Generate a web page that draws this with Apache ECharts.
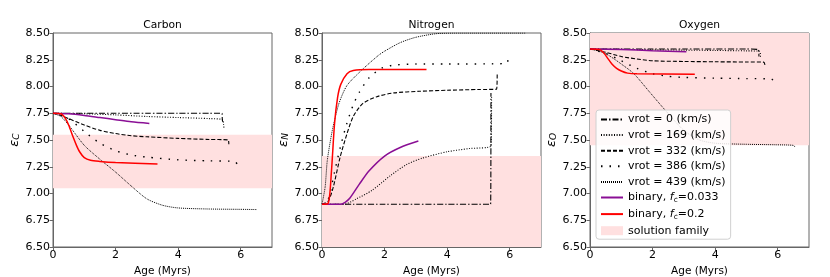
<!DOCTYPE html>
<html><head><meta charset="utf-8">
<script src="https://cdn.jsdelivr.net/npm/echarts@6/dist/echarts.min.js"></script>
<style>html,body{margin:0;padding:0;background:#fff}#c{width:830px;height:277px}</style>
</head><body><div id="c"></div>
<script>
// ---------- data (age in Myr, abundance epsilon) ----------
const panelTitles = ['Carbon', 'Nitrogen', 'Oxygen'];
const yNames = ['C', 'N', 'O'];
const seriesNames = ['vrot = 0 (km/s)', 'vrot = 169 (km/s)', 'vrot = 332 (km/s)', 'vrot = 386 (km/s)', 'vrot = 439 (km/s)', 'binary, fc=0.033', 'binary, fc=0.2'];
const bandName = 'solution family';
const bands = [[7.05, 7.55], [6.50, 7.35], [7.45, 8.50]];
const xTicks = [0, 2, 4, 6];

// Carbon
const cV0   = [[0,7.75],[1,7.75],[2,7.75],[3,7.75],[4,7.75],[5,7.75],[5.40,7.75],[5.41,7.70],[5.42,7.67]];
const cV169 = [[0,7.75],[1,7.745],[2,7.735],[3,7.72],[4,7.71],[5,7.70],[5.42,7.69],[5.45,7.65],[5.47,7.60]];
const cV332 = [[0,7.75],[0.25,7.73],[0.5,7.70],[1,7.64],[1.5,7.59],[2,7.56],[2.5,7.54],[3,7.53],[4,7.515],[5,7.505],[5.6,7.50],[5.62,7.46]];
const cV386 = [[0,7.75],[0.25,7.73],[0.5,7.70],[1,7.58],[1.5,7.47],[2,7.40],[2.5,7.36],[3,7.34],[4,7.315],[5,7.305],[5.8,7.30],[5.9,7.27]];
const cV439 = [[0,7.75],[0.25,7.72],[0.5,7.64],[1,7.45],[1.5,7.32],[2,7.20],[2.5,7.07],[3,6.95],[3.5,6.89],[4,6.865],[5,6.855],[6,6.852],[6.5,6.85]];
const cB033 = [[0,7.75],[0.5,7.745],[1,7.73],[1.5,7.71],[2,7.69],[2.5,7.67],[3.08,7.655]];
const cB02  = [[0,7.75],[0.25,7.745],[0.4,7.70],[0.5,7.64],[0.64,7.53],[0.75,7.45],[0.85,7.39],[1.0,7.335],[1.2,7.31],[1.5,7.30],[2,7.29],[3.34,7.275]];

// Nitrogen
const nV0   = [[0,6.90],[1,6.90],[2,6.90],[3,6.90],[4,6.90],[5,6.90],[5.39,6.90],[5.40,7.94]];
const nV169 = [[0,6.90],[0.7,6.90],[1.1,6.95],[1.6,7.03],[2.2,7.17],[2.7,7.27],[3.2,7.33],[4,7.39],[4.7,7.42],[5.4,7.445],[5.42,7.90]];
const nV332 = [[0,6.90],[0.2,6.93],[0.36,7.06],[0.58,7.34],[0.8,7.56],[1.0,7.72],[1.3,7.84],[1.75,7.905],[2.3,7.94],[3.1,7.955],[4,7.965],[5,7.972],[5.58,7.975],[5.6,8.12]];
const nV386 = [[0,6.90],[0.2,6.95],[0.4,7.20],[0.6,7.45],[0.8,7.66],[1.0,7.83],[1.2,7.95],[1.5,8.08],[1.9,8.17],[2.3,8.20],[3,8.21],[4,8.21],[5.9,8.215],[5.95,8.26]];
const nV439 = [[0,6.90],[0.1,7.06],[0.17,7.31],[0.33,7.59],[0.54,7.84],[0.8,8.01],[1.28,8.156],[1.8,8.29],[2.0,8.33],[2.5,8.41],[3.0,8.46],[3.7,8.495],[4.5,8.50],[6.5,8.50]];
const nB033 = [[0,6.90],[0.6,6.90],[0.75,6.92],[0.9,6.96],[1.2,7.09],[1.5,7.21],[2.0,7.35],[2.5,7.43],[3.08,7.49]];
const nB02  = [[0,6.90],[0.2,6.91],[0.3,7.20],[0.4,7.65],[0.5,7.90],[0.6,8.02],[0.8,8.12],[1.0,8.15],[1.5,8.16],[3.34,8.16]];

// Oxygen
const oV0   = [[0,8.35],[1,8.35],[2,8.35],[3,8.35],[4,8.35],[5,8.35],[5.38,8.345],[5.40,8.28]];
const oV169 = [[0,8.35],[1,8.347],[2,8.343],[3,8.34],[4,8.337],[5,8.333],[5.42,8.33],[5.45,8.27]];
const oV332 = [[0,8.35],[0.5,8.32],[1,8.28],[1.5,8.257],[2,8.24],[3,8.234],[4,8.231],[5,8.229],[5.55,8.228],[5.6,8.19]];
const oV386 = [[0,8.35],[0.5,8.31],[1,8.24],[1.5,8.17],[2,8.12],[2.5,8.095],[3,8.085],[4,8.078],[5,8.074],[5.8,8.07],[5.9,8.035]];
const oV439 = [[0,8.35],[0.3,8.33],[0.6,8.29],[1.0,8.21],[1.4,8.12],[1.9,7.95],[2.4,7.78],[3.0,7.59],[3.5,7.50],[4.0,7.47],[5,7.46],[6,7.455],[6.5,7.45],[6.55,7.435]];
const oB033 = [[0,8.35],[1,8.345],[2,8.335],[3.08,8.325]];
const oB02  = [[0,8.35],[0.3,8.345],[0.45,8.31],[0.55,8.27],[0.7,8.21],[0.85,8.17],[1.0,8.145],[1.2,8.125],[1.5,8.118],[3.35,8.115]];

const panelData = [
  [cV0, cV169, cV332, cV386, cV439, cB033, cB02],
  [nV0, nV169, nV332, nV386, nV439, nB033, nB02],
  [oV0, oV169, oV332, oV386, oV439, oB033, oB02]
];

// ---------- styles ----------
const lineStyles = [
  {color:'#000', width:1.1, type:[6,2,1.5,2]},
  {color:'#000', width:1.1, type:[1,1.6]},
  {color:'#000', width:1.1, type:[4,2]},
  {color:'#000', width:1.4, type:[1.5,7]},
  {color:'#000', width:1.0, type:[1,1]},
  {color:'#8a0f95', width:1.5, type:'solid'},
  {color:'#ff0000', width:1.5, type:'solid'}
];
const bandColor = '#ffe0e0';
const gridLefts = [53, 322, 590];
const gridW = 219, gridTop = 33, gridH = 214;
const font = 'DejaVu Sans';
const spine = '#666';

const grids = [], xAxes = [], yAxes = [], titles = [], series = [];
for (let p = 0; p < 3; p++) {
  grids.push({left: gridLefts[p], top: gridTop, width: gridW, height: gridH, show: true, borderColor: spine, borderWidth: 1,
    backgroundColor: 'transparent', containLabel: false, outerBoundsMode: 'none'});
  titles.push({text: panelTitles[p], left: gridLefts[p] + gridW / 2, top: 20, padding: 0, textAlign: 'center',
    textStyle: {fontFamily: font, fontSize: 10.7, fontWeight: 'normal', color: '#000'}});
  xAxes.push({type: 'value', gridIndex: p, min: 0, max: 7, interval: 2,
    name: 'Age (Myrs)', nameLocation: 'middle', nameGap: 16,
    nameTextStyle: {fontFamily: font, fontSize: 10.5, color: '#000'},
    axisLine: {show: true, onZero: false, lineStyle: {color: spine, width: 1}},
    axisTick: {show: true, length: 3.5, lineStyle: {color: spine}},
    axisLabel: {fontFamily: font, fontSize: 11, color: '#000', margin: 3, showMaxLabel: false,
      formatter: v => xTicks.includes(v) ? String(v) : ''},
    splitLine: {show: false}});
  yAxes.push({type: 'value', gridIndex: p, min: 6.5, max: 8.5, interval: 0.25,
    name: '{e|ε}{s|' + yNames[p] + '}', nameLocation: 'middle', nameGap: 29,
    nameTextStyle: {rich: {e: {fontFamily: font, fontSize: 13, fontStyle: 'italic', color: '#000'},
                           s: {fontFamily: font, fontSize: 9, fontStyle: 'italic', color: '#000', padding: [5, 0, 0, 0]}}},
    axisLine: {show: true, lineStyle: {color: spine, width: 1}},
    axisTick: {show: true, length: 3.5, lineStyle: {color: spine}},
    axisLabel: {fontFamily: font, fontSize: 11, color: '#000', margin: 3, formatter: v => v.toFixed(2)},
    splitLine: {show: false}});
  series.push({name: bandName, type: 'line', xAxisIndex: p, yAxisIndex: p, data: [], silent: true,
    itemStyle: {color: bandColor}, lineStyle: {color: bandColor},
    markArea: {silent: true, itemStyle: {color: bandColor, opacity: 1},
      data: [[{xAxis: 0, yAxis: bands[p][0]}, {xAxis: 7, yAxis: bands[p][1]}]]}, z: 1});
  for (let s = 0; s < 7; s++) {
    series.push({name: seriesNames[s], type: 'line', xAxisIndex: p, yAxisIndex: p,
      data: panelData[p][s], showSymbol: false, symbol: 'none', smooth: 0.25,
      lineStyle: lineStyles[s], itemStyle: {color: lineStyles[s].color}, z: 3 + (s >= 5 ? 1 : 0), animation: false});
  }
}

const legendData = seriesNames.map(n => ({name: n}))
  .concat([{name: bandName, icon: 'rect', itemStyle: {color: bandColor, opacity: 1}}]);

const chart = echarts.init(document.getElementById('c'), null, {renderer: 'canvas'});
chart.setOption({
  animation: false,
  backgroundColor: '#fff',
  title: titles,
  grid: grids,
  xAxis: xAxes,
  yAxis: yAxes,
  legend: {
    orient: 'vertical', left: 596, top: 110, data: legendData,
    backgroundColor: 'rgba(255,255,255,0.85)', borderColor: '#d0d0d0', borderWidth: 1, borderRadius: 3,
    padding: [4, 5, 3, 4], itemWidth: 22, itemHeight: 9, itemGap: 4.6,
    itemStyle: {opacity: 0},
    textStyle: {fontFamily: font, fontSize: 11, color: '#000', lineHeight: 10.8,
      rich: {i: {fontFamily: font, fontSize: 11, fontStyle: 'italic', color: '#000'},
             sub: {fontFamily: font, fontSize: 7.5, color: '#000', padding: [5, 0, 0, 0]}}},
    formatter: n => n.replace('fc=', '{i|f}{sub|c}=')
  },
  series: series
});
</script></body></html>
